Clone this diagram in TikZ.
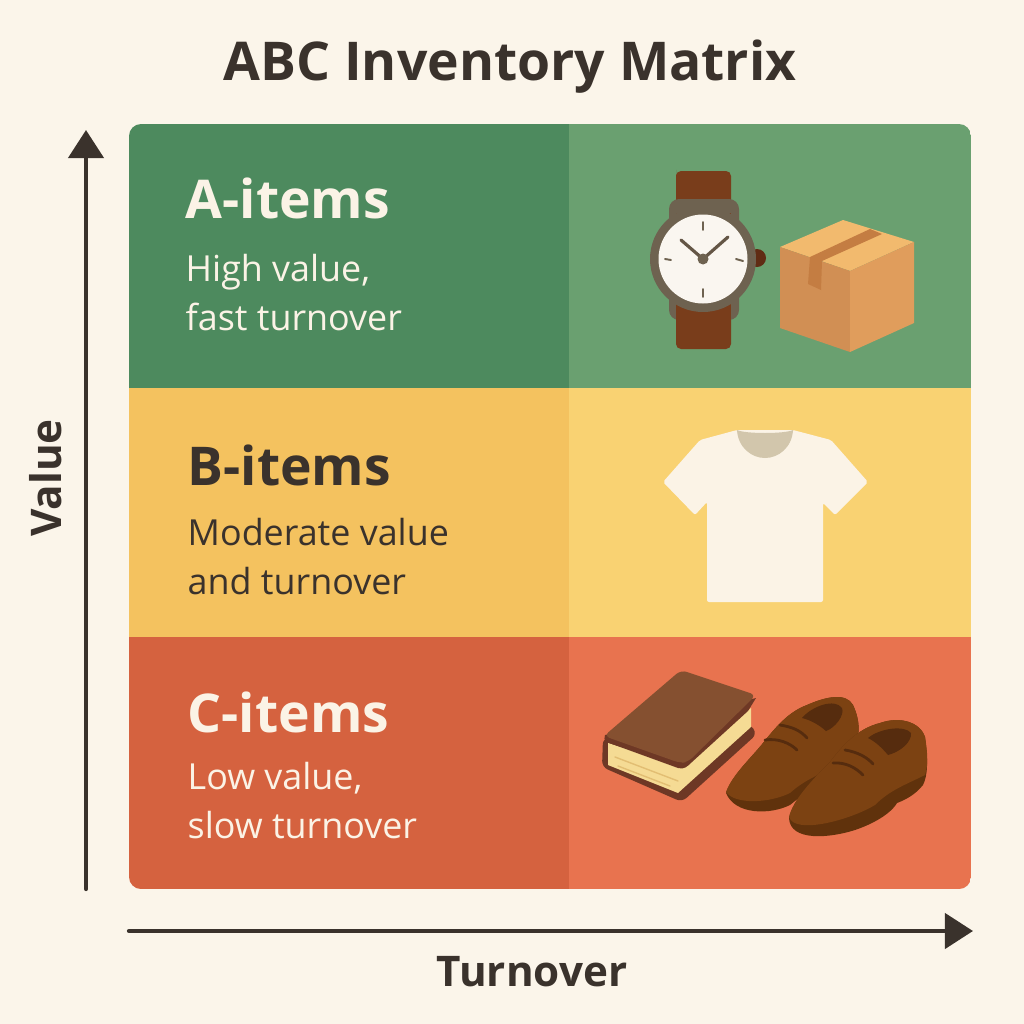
\documentclass[tikz,border=0pt]{standalone}
\usepackage{fontspec}
\setmainfont{Open Sans}
\usetikzlibrary{arrows.meta}
\definecolor{paper}{HTML}{FBF5EA}
\definecolor{ink}{HTML}{3A322C}
\definecolor{cream}{HTML}{FBF3E6}
\definecolor{greenL}{HTML}{4D8A5E}
\definecolor{greenR}{HTML}{6AA070}
\definecolor{yellowL}{HTML}{F4C25F}
\definecolor{yellowR}{HTML}{F9D272}
\definecolor{redL}{HTML}{D5623F}
\definecolor{redR}{HTML}{E8734F}
\tikzset{
	heading/.style={anchor=west,font=\fontsize{15.2}{18}\selectfont\bfseries},
	blurb/.style={anchor=north west,align=left,font=\fontsize{10.2}{13.7}\selectfont},
	axis/.style={line width=1.2pt,color=ink,-{Triangle[length=8pt,width=10pt]}},
	axislabel/.style={font=\fontsize{12}{14}\selectfont\bfseries,color=ink}
}
\begin{document}
\begin{tikzpicture}[line cap=round,line join=round,x=0.01cm,y=-0.01cm]
	\useasboundingbox (0,0) rectangle (1024,1024);
	\fill[paper] (0,0) rectangle (1024,1024);
	% panels
	\begin{scope}
	\clip[rounded corners=0.12cm] (129,124) rectangle (971,889);
	\fill[greenL] (129,124) rectangle (569,388);
	\fill[greenR] (569,124) rectangle (971,388);
	\fill[yellowL] (129,388) rectangle (569,637);
	\fill[yellowR] (569,388) rectangle (971,637);
	\fill[redL] (129,637) rectangle (569,889);
	\fill[redR] (569,637) rectangle (971,889);
	\end{scope}
	% texts
	\node[font=\fontsize{15.2}{18}\selectfont\bfseries,color=ink] (title) at (510,67) {ABC Inventory Matrix};
	\node[heading,color=cream,inner sep=0pt] (aitems) at (185,198) {A-items};
	\node[blurb,color=cream,inner sep=0pt] (atext) at (185,254) {High value,\\fast turnover};
	\node[heading,color=ink,inner sep=0pt] (bitems) at (187,465) {B-items};
	\node[blurb,color=ink,inner sep=0pt] (btext) at (187,518) {Moderate value\\and turnover};
	\node[heading,color=cream,inner sep=0pt] (citems) at (187,712) {C-items};
	\node[blurb,color=cream,inner sep=0pt] (ctext) at (187,762) {Low value,\\slow turnover};
	% axes
	\coordinate (vstart) at (86,889);
	\coordinate (vend) at (86,130);
	\coordinate (hstart) at (129,931);
	\coordinate (hend) at (973,931);
	\draw[axis] (vstart) -- (vend);
	\draw[axis] (hstart) -- (hend);
	\node[axislabel,rotate=90] (valuelabel) at (46,478) {Value};
	\node[axislabel] (turnlabel) at (532,972) {Turnover};
	% watch
	\fill[color=brown!70!black,fill=brown!0] (0,0) circle (0);
	\fill[color={rgb,255:red,121;green,61;blue,27}] (676,175) [rounded corners=0.05cm] -- (676,171) -- (731,171) -- (731,349) -- (676,349) -- cycle;
	\fill[color={rgb,255:red,110;green,98;blue,80},rounded corners=0.1cm] (669,199) rectangle (739,320);
	\fill[color={rgb,255:red,121;green,61;blue,27}] (676,213) rectangle (731,220);
	\fill[color={rgb,255:red,121;green,61;blue,27}] (676,300) rectangle (731,330);
	\fill[color={rgb,255:red,96;green,44;blue,20}] (757,258) circle (9);
	\fill[color={rgb,255:red,110;green,98;blue,80}] (703,259) circle (53);
	\fill[color={rgb,255:red,250;green,246;blue,240}] (703,259) circle (44.5);
	\draw[line width=0.55pt,color={rgb,255:red,110;green,98;blue,80}] (703,222) -- (703,230) (703,289) -- (703,297) (665,259) -- (671,260) (736,259) -- (743,261);
	\draw[line width=0.9pt,color={rgb,255:red,100;green,86;blue,70}] (681,240) -- (703,259) -- (728,237);
	\fill[color={rgb,255:red,110;green,98;blue,80}] (703,259) circle (5.5);
	% box
	\fill[color={rgb,255:red,242;green,186;blue,110}] (843,220) -- (914,242) -- (850,271) -- (780,247) -- cycle;
	\fill[color={rgb,255:red,209;green,143;blue,84}] (780,247) -- (850,271) -- (850,352) -- (780,328) -- cycle;
	\fill[color={rgb,255:red,224;green,157;blue,92}] (850,271) -- (914,242) -- (914,323) -- (850,352) -- cycle;
	\fill[color={rgb,255:red,196;green,125;blue,66}] (870,229) -- (882,234) -- (822,261) -- (821,290) -- (808,284) -- (810,257) -- cycle;
	% shirt
	\fill[color=cream,rounded corners=0.02cm] (737,430) -- (700,440) -- (663,482) -- (695,515) -- (707,502) -- (707,602) -- (823,602) -- (823,503) -- (835,515) -- (868,482) -- (831,440) -- (793,430) -- cycle;
	\fill[color={rgb,255:red,210;green,198;blue,172}] (737,430) .. controls (745,434) and (785,434) .. (793,430) .. controls (792,448) and (778,458) .. (765,458) .. controls (752,458) and (738,448) .. (737,430) -- cycle;
	% book
	\fill[color={rgb,255:red,110;green,56;blue,37},rounded corners=0.06cm] (603,738) -- (602,767) -- (682,802) -- (757,734) -- (750,724) -- cycle;
	\fill[color={rgb,255:red,245;green,219;blue,148}] (608,743) -- (608,765) -- (678,793) -- (751,727) -- (751,708) -- (687,764) -- (678,765) -- cycle;
	\draw[line width=0.4pt,color={rgb,255:red,226;green,190;blue,115}] (615,757) -- (678,781) (618,766) -- (670,786);
	\fill[color={rgb,255:red,110;green,56;blue,37}] (605,735) .. controls (603,741) and (606,741) .. (612,744) -- (678,768) .. controls (684,770) and (688,766) .. (692,762) -- (748,711) -- (756,698) -- cycle;
	\fill[color={rgb,255:red,133;green,80;blue,48},rounded corners=0.06cm] (681,670) -- (756,695) -- (688,762) -- (680,763) -- (604,736) -- cycle;
	% shoes
	\fill[color={rgb,255:red,96;green,50;blue,12}] (726,793) .. controls (732,775) and (752,757) .. (763,743) .. controls (775,728) and (788,712) .. (807,705) .. controls (825,697) and (846,692) .. (853,705) .. controls (860,720) and (862,738) .. (850,755) .. controls (830,780) and (808,790) .. (790,805) .. controls (770,815) and (735,815) .. (726,793) -- cycle;
	\fill[color={rgb,255:red,124;green,66;blue,18}] (726,792) .. controls (732,775) and (752,757) .. (763,743) .. controls (775,728) and (788,712) .. (807,705) .. controls (825,697) and (846,692) .. (853,705) .. controls (860,720) and (862,738) .. (850,755) .. controls (825,775) and (810,775) .. (790,793) .. controls (770,803) and (735,805) .. (726,792) -- cycle;
	\fill[color={rgb,255:red,86;green,44;blue,14}] (802,718) .. controls (812,706) and (835,698) .. (842,708) .. controls (845,715) and (835,728) .. (826,731) .. controls (818,724) and (810,720) .. (802,718) -- cycle;
	\draw[line width=0.8pt,color={rgb,255:red,86;green,44;blue,14}] (780,725) .. controls (792,727) and (800,730) .. (807,738) (765,740) .. controls (778,738) and (790,743) .. (797,750);
	\fill[color={rgb,255:red,96;green,50;blue,12}] (789,818) .. controls (793,800) and (812,780) .. (830,762) .. controls (845,742) and (860,728) .. (880,723) .. controls (900,716) and (920,722) .. (925,737) .. controls (928,760) and (928,775) .. (923,785) .. controls (915,795) and (905,800) .. (897,803) .. controls (890,815) and (870,825) .. (855,830) .. controls (830,838) and (790,842) .. (789,818) -- cycle;
	\fill[color={rgb,255:red,124;green,66;blue,18}] (789,817) .. controls (793,800) and (812,780) .. (830,762) .. controls (845,742) and (860,728) .. (880,723) .. controls (900,716) and (920,722) .. (925,737) .. controls (928,755) and (928,765) .. (925,775) .. controls (905,785) and (890,790) .. (875,805) .. controls (850,820) and (795,835) .. (789,817) -- cycle;
	\fill[color={rgb,255:red,86;green,44;blue,14}] (868,738) .. controls (880,728) and (905,725) .. (911,733) .. controls (912,742) and (900,752) .. (888,755) .. controls (882,748) and (876,742) .. (868,738) -- cycle;
	\draw[line width=0.8pt,color={rgb,255:red,86;green,44;blue,14}] (845,750) .. controls (858,752) and (868,758) .. (873,764) (833,763) .. controls (846,762) and (856,768) .. (863,775);
\end{tikzpicture}
\end{document}
